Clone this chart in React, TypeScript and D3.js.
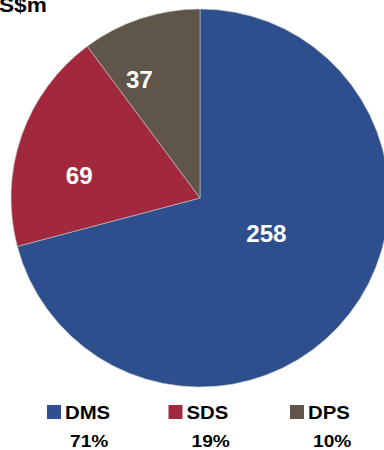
import React from "react";
import * as d3 from "d3";

const categories = ["DMS", "SDS", "DPS"];
const values = [258, 69, 37];
const percentLabels = ["71%", "19%", "10%"];
const colors = ["#2D4F8E", "#A2293D", "#5F5549"];
const unitLabel = "S$m";

const W = 384;
const H = 450;
const cx = 200;
const cy = 198;
const R = 189;
const labelRadiusFrac = [0.4, 0.65, 0.7];
const labelAngleShift = (-9 * Math.PI) / 180;
const stretch = 1.13;

export default function App() {
  const pie = d3.pie<number>().sort(null).value((d) => d);
  const arcs = pie(values);
  const arcGen = d3.arc<d3.PieArcDatum<number>>().innerRadius(0).outerRadius(R);
  const legendX = d3.scalePoint<string>().domain(categories).range([47, 290]);

  return (
    <svg
      width={W}
      height={H}
      style={{ position: "absolute", left: 0, top: 0 }}
      fontFamily="'Liberation Sans', Arial, sans-serif"
    >
      <rect width={W} height={H} fill="#ffffff" />
      <g transform={`translate(${cx},${cy})`}>
        {arcs.map((a, i) => (
          <path key={i} d={arcGen(a) || ""} fill={colors[i]} stroke="#c8c8c8" strokeWidth={0.6} />
        ))}
        {arcs.map((a, i) => {
          const mid = (a.startAngle + a.endAngle) / 2 + labelAngleShift;
          const r = R * labelRadiusFrac[i];
          const x = r * Math.sin(mid);
          const y = -r * Math.cos(mid);
          return (
            <text
              key={i}
              transform={`translate(${x},${y}) scale(1.05,1)`}
              textAnchor="middle"
              dominantBaseline="central"
              fill="#ffffff"
              fontWeight="bold"
              fontSize={23}
            >
              {values[i]}
            </text>
          );
        })}
      </g>
      <text transform={`translate(-1,12) scale(${stretch},1)`} fontWeight="bold" fontSize={20} fill="#000">
        {unitLabel}
      </text>
      {categories.map((c, i) => {
        const x = legendX(c) as number;
        return (
          <g key={c}>
            <rect x={x} y={405} width={14} height={14} fill={colors[i]} />
            <text
              transform={`translate(${x + 18},419) scale(${stretch},1)`}
              fontWeight="bold"
              fontSize={18}
              fill="#000"
            >
              {c}
            </text>
            <text
              transform={`translate(${x + 23},447) scale(${stretch},1)`}
              fontWeight="bold"
              fontSize={17}
              fill="#000"
            >
              {percentLabels[i]}
            </text>
          </g>
        );
      })}
    </svg>
  );
}
